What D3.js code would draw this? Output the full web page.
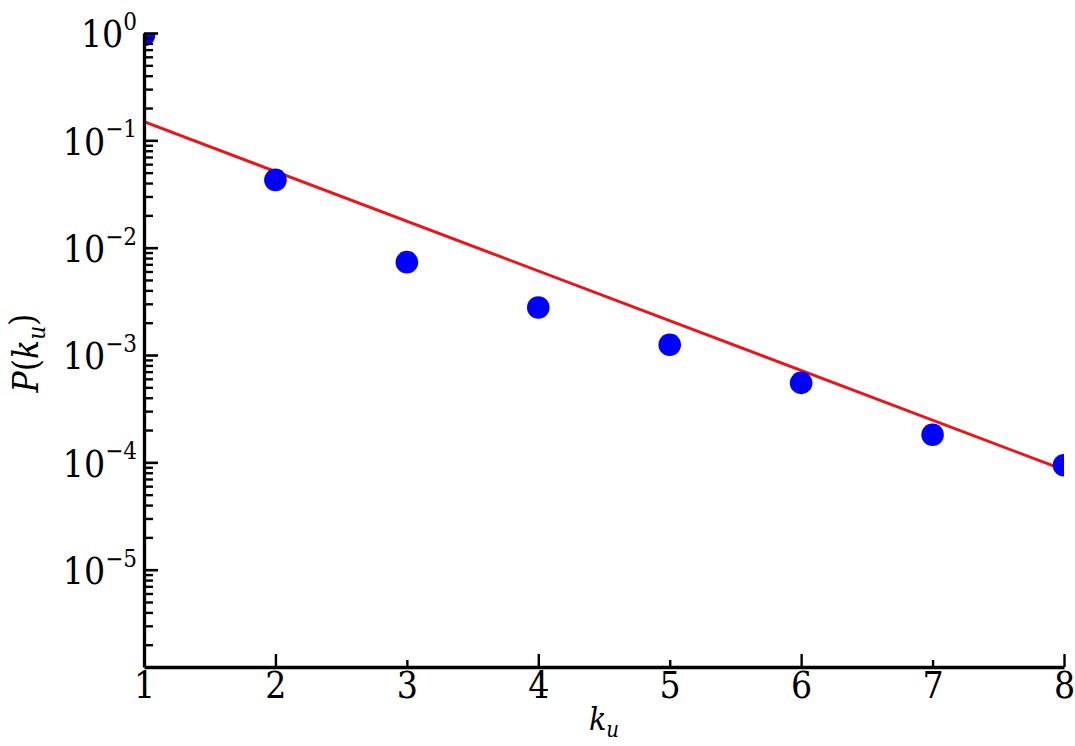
<!DOCTYPE html>
<html>
<head>
<meta charset="utf-8">
<script src="https://cdn.jsdelivr.net/npm/d3@7"></script>
<style>
  html, body { margin: 0; padding: 0; background: #fff; }
  svg { display: block; }
  svg text { font-family: "DejaVu Serif Condensed", "Liberation Serif", "Times New Roman", serif; font-stretch: condensed; fill: #000; }
</style>
</head>
<body>
<div id="chart"></div>
<script>
// ---------- Data ----------
const kValues = [1, 2, 3, 4, 5, 6, 7, 8];
const pValues = [0.96, 0.0428, 0.00733, 0.00277, 0.001245, 0.00055, 0.000181, 0.000094];

// fitted straight line (on log axis), end points
const fitK = [1, 8];
const fitP = [0.149, 0.000085];

const xTicks = [1, 2, 3, 4, 5, 6, 7, 8];
const xMajor = [2, 4, 6, 8];
const yExponents = [0, -1, -2, -3, -4, -5];

// ---------- Layout ----------
const W = 1075, H = 746;
const margin = { top: 33, right: 11, bottom: 79, left: 144 };
const width = W - margin.left - margin.right;
const height = H - margin.top - margin.bottom;

const svg = d3.select("#chart").append("svg")
  .attr("width", W)
  .attr("height", H);

svg.append("rect").attr("width", W).attr("height", H).attr("fill", "#fff");

svg.append("defs").append("clipPath")
  .attr("id", "plot-clip")
  .append("rect")
  .attr("width", width)
  .attr("height", height);

const g = svg.append("g")
  .attr("transform", `translate(${margin.left},${margin.top})`);

const x = d3.scaleLinear().domain([1, 8]).range([0, width]);
const y = d3.scaleLog().domain([1.24e-6, 1]).range([height, 0]);

// ---------- Marks ----------
const plot = g.append("g").attr("clip-path", "url(#plot-clip)");

const line = d3.line()
  .x((d, i) => x(fitK[i]))
  .y(d => y(d));

plot.append("path")
  .datum(fitP)
  .attr("fill", "none")
  .attr("stroke", "#e8161b")
  .attr("stroke-width", 3)
  .attr("d", line);

plot.selectAll("circle.pt")
  .data(pValues)
  .enter()
  .append("circle")
  .attr("class", "pt")
  .attr("cx", (d, i) => x(kValues[i]))
  .attr("cy", d => y(d))
  .attr("r", 11.3)
  .attr("fill", "#0000ff");

// ---------- Axes ----------
const majorY = yExponents.map(e => Math.pow(10, e));
const minorY = y.ticks().filter(v => {
  const l = Math.log10(v);
  return Math.abs(l - Math.round(l)) > 1e-6;
});

// minor y ticks
g.append("g")
  .attr("class", "axis y-minor")
  .call(d3.axisLeft(y).tickValues(minorY).tickSizeInner(-9).tickSizeOuter(0).tickFormat(""))
  .call(s => s.select(".domain").remove())
  .call(s => s.selectAll(".tick line").attr("stroke", "#000").attr("stroke-width", 2.4));

// major y ticks with labels
const yAxis = g.append("g")
  .attr("class", "axis y-major")
  .call(d3.axisLeft(y).tickValues(majorY).tickSizeInner(-14).tickSizeOuter(0).tickPadding(7));

yAxis.attr("font-family", null);
yAxis.select(".domain").attr("stroke", "#000").attr("stroke-width", 3.3);
yAxis.selectAll(".tick line").attr("stroke", "#000").attr("stroke-width", 2.6);
yAxis.selectAll(".tick text")
  .attr("dy", "0.37em")
  .style("font-size", "37px")
  .text(null)
  .each(function (d) {
    const t = d3.select(this);
    const e = Math.round(Math.log10(d));
    t.append("tspan").text("10");
    t.append("tspan")
      .attr("dy", "-0.72em")
      .style("font-size", "24px")
      .text(e === 0 ? "0" : "\u2212" + Math.abs(e));
  });

// x axis
const xAxis = g.append("g")
  .attr("class", "axis x-axis")
  .attr("transform", `translate(0,${height})`)
  .call(d3.axisBottom(x).tickValues(xTicks).tickSizeInner(-13).tickSizeOuter(0).tickPadding(5).tickFormat(d3.format("d")));

xAxis.attr("font-family", null);
xAxis.select(".domain").attr("stroke", "#000").attr("stroke-width", 3.3);
xAxis.selectAll(".tick line")
  .attr("stroke", "#000")
  .attr("stroke-width", 2.4)
  .attr("y2", d => xMajor.includes(d) ? -13 : -7);
xAxis.selectAll(".tick text").style("font-size", "37px");

// ---------- Axis titles ----------
const xTitle = g.append("text")
  .attr("x", width / 2)
  .attr("y", height + 63)
  .attr("text-anchor", "middle")
  .style("font-size", "32px");
xTitle.append("tspan").style("font-style", "italic").text("k");
xTitle.append("tspan").style("font-style", "italic").style("font-size", "22px").attr("dy", "0.3em").text("u");

const yTitle = g.append("text")
  .attr("transform", `translate(${-106},${height / 2 + 3}) rotate(-90)`)
  .attr("text-anchor", "middle")
  .style("font-size", "35px");
yTitle.append("tspan").style("font-style", "italic").text("P");
yTitle.append("tspan").text("(");
yTitle.append("tspan").style("font-style", "italic").text("k");
yTitle.append("tspan").style("font-style", "italic").style("font-size", "24px").attr("dy", "0.3em").text("u");
yTitle.append("tspan").attr("dy", "-0.3em").text(")");
</script>
</body>
</html>
